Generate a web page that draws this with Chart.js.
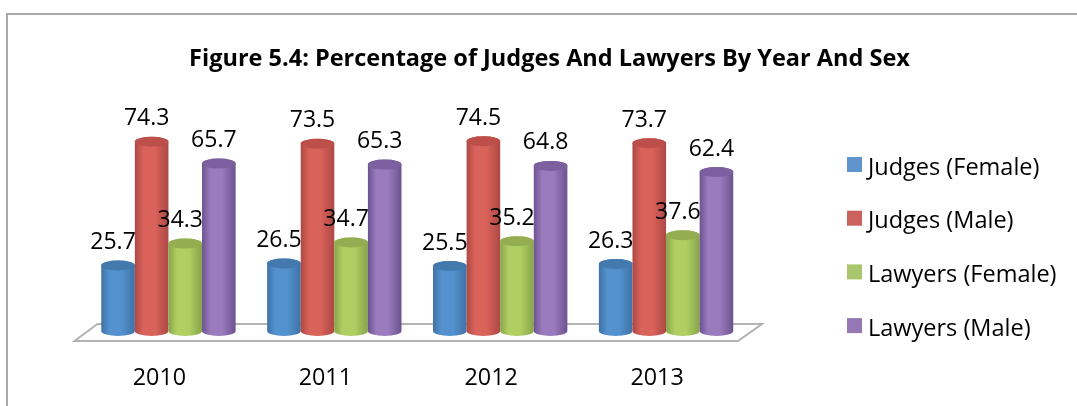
<!DOCTYPE html>
<html>
<head>
<meta charset="utf-8">
<style>html,body{margin:0;padding:0;background:#fff;overflow:hidden}#wrap{position:relative;width:1077px;height:406px}#c{filter:blur(0.35px)}</style>
<script src="https://cdn.jsdelivr.net/npm/chart.js@4"></script>
</head>
<body>
<div id="wrap"><canvas id="c" width="1077" height="406"></canvas></div>
<script>
const categories = ['2010', '2011', '2012', '2013'];
const seriesNames = ['Judges (Female)', 'Judges (Male)', 'Lawyers (Female)', 'Lawyers (Male)'];
const judgesFemale = [25.7, 26.5, 25.5, 26.3];
const judgesMale = [74.3, 73.5, 74.5, 73.7];
const lawyersFemale = [34.3, 34.7, 35.2, 37.6];
const lawyersMale = [65.7, 65.3, 64.8, 62.4];
const titleText = 'Figure 5.4: Percentage of Judges And Lawyers By Year And Sex';
const legendColors = ['#5f95cb', '#cb625e', '#aac66c', '#9578b3'];
const shades = [
  {edge:'#3f72a6', mid:'#5392cf', cap:'#4479ae'},
  {edge:'#ac4844', mid:'#d9625a', cap:'#bd4f4a'},
  {edge:'#88a449', mid:'#afcf62', cap:'#93ad50'},
  {edge:'#6c5290', mid:'#9a7bbd', cap:'#7b5f9f'}
];
const FONT = '"Open Sans", sans-serif';

const cylinder3d = {
  id: 'cylinder3d',
  beforeDatasetDraw() { return false; },
  beforeDatasetsDraw(chart) {
    const ctx = chart.ctx, a = chart.chartArea;
    ctx.save();
    ctx.strokeStyle = '#b3b3b3';
    ctx.lineWidth = 2;
    ctx.beginPath();
    ctx.moveTo(a.left - 11, a.bottom + 10);
    ctx.lineTo(a.right - 11, a.bottom + 10);
    ctx.lineTo(a.right + 13, a.bottom - 7);
    ctx.lineTo(a.left + 12, a.bottom - 7);
    ctx.closePath();
    ctx.stroke();
    ctx.restore();
  },
  afterDatasetsDraw(chart) {
    const ctx = chart.ctx;
    const ry = 5;
    chart.data.datasets.forEach((ds, i) => {
      const meta = chart.getDatasetMeta(i);
      const s = shades[i];
      meta.data.forEach(el => {
        const p = el.getProps(['x', 'y', 'base', 'width'], true);
        const hw = p.width / 2, base = p.base, top = p.y;
        const g = ctx.createLinearGradient(p.x - hw, 0, p.x + hw, 0);
        g.addColorStop(0, s.edge);
        g.addColorStop(0.25, s.mid);
        g.addColorStop(0.6, s.mid);
        g.addColorStop(1, s.edge);
        ctx.save();
        ctx.fillStyle = g;
        ctx.beginPath();
        ctx.moveTo(p.x - hw, top);
        ctx.lineTo(p.x - hw, base);
        ctx.ellipse(p.x, base, hw, ry, 0, Math.PI, 0, true);
        ctx.lineTo(p.x + hw, top);
        ctx.ellipse(p.x, top, hw, ry, 0, 0, Math.PI, true);
        ctx.closePath();
        ctx.fill();
        ctx.fillStyle = s.cap;
        ctx.beginPath();
        ctx.ellipse(p.x, top, hw, ry, 0, 0, Math.PI * 2);
        ctx.fill();
        ctx.restore();
      });
    });
    // value labels
    ctx.save();
    ctx.font = '23px ' + FONT;
    ctx.fillStyle = '#000';
    ctx.textAlign = 'center';
    ctx.textBaseline = 'middle';
    chart.data.datasets.forEach((ds, i) => {
      chart.getDatasetMeta(i).data.forEach((el, j) => {
        ctx.fillText(ds.data[j].toFixed(1), el.x - 5, el.y - 23);
      });
    });
    ctx.restore();
  }
};

const frameAndLegend = {
  id: 'frameAndLegend',
  afterLayout(chart) {
    // title is centred at x=549 of the page, not over the plot area, and may be wider than it
    const t = chart.titleBlock;
    if (t) { t.left = 549.5 - 420; t.right = 549.5 + 420; t.width = 840; }
  },
  beforeDraw(chart) {
    const ctx = chart.ctx;
    ctx.save();
    ctx.fillStyle = '#fff';
    ctx.fillRect(0, 0, chart.width, chart.height);
    ctx.strokeStyle = '#a9a9a9';
    ctx.lineWidth = 2;
    ctx.beginPath();
    ctx.moveTo(7, chart.height);
    ctx.lineTo(7, 14);
    ctx.lineTo(chart.width, 14);
    ctx.stroke();
    ctx.restore();
  },
  afterDraw(chart) {
    const ctx = chart.ctx;
    ctx.save();
    ctx.font = '23.5px ' + FONT;
    ctx.textBaseline = 'middle';
    ctx.textAlign = 'left';
    seriesNames.forEach((name, i) => {
      const y = 157 + i * 53.7;
      ctx.fillStyle = legendColors[i];
      ctx.fillRect(847, y, 15, 15);
      ctx.fillStyle = '#000';
      ctx.fillText(name, 868, y + 11);
    });
    ctx.restore();
  }
};

const allSeries = [judgesFemale, judgesMale, lawyersFemale, lawyersMale];
new Chart(document.getElementById('c'), {
  type: 'bar',
  data: {
    labels: categories,
    datasets: allSeries.map((d, i) => ({
      label: seriesNames[i],
      data: d,
      backgroundColor: legendColors[i],
      categoryPercentage: 0.81,
      barPercentage: 1
    }))
  },
  plugins: [frameAndLegend, cylinder3d],
  options: {
    responsive: false,
    animation: false,
    layout: { padding: { left: 85.5, right: 328, top: 0, bottom: 0 } },
    plugins: {
      legend: { display: false },
      tooltip: { enabled: false },
      title: {
        display: true,
        text: titleText,
        color: '#000',
        font: { family: FONT, size: 23.5, weight: 'bold', lineHeight: 1.2 },
        padding: { top: 45.5, bottom: 2.5 }
      }
    },
    scales: {
      y: { display: false, min: 0, max: 100 },
      x: {
        grid: { display: false, drawTicks: false },
        border: { display: false },
        afterFit(scale) { scale.height = 75; },
        ticks: {
          color: '#000',
          font: { family: FONT, size: 23.3 },
          padding: 33,
          labelOffset: -9,
          maxRotation: 0
        }
      }
    }
  }
});
</script>
</body>
</html>
